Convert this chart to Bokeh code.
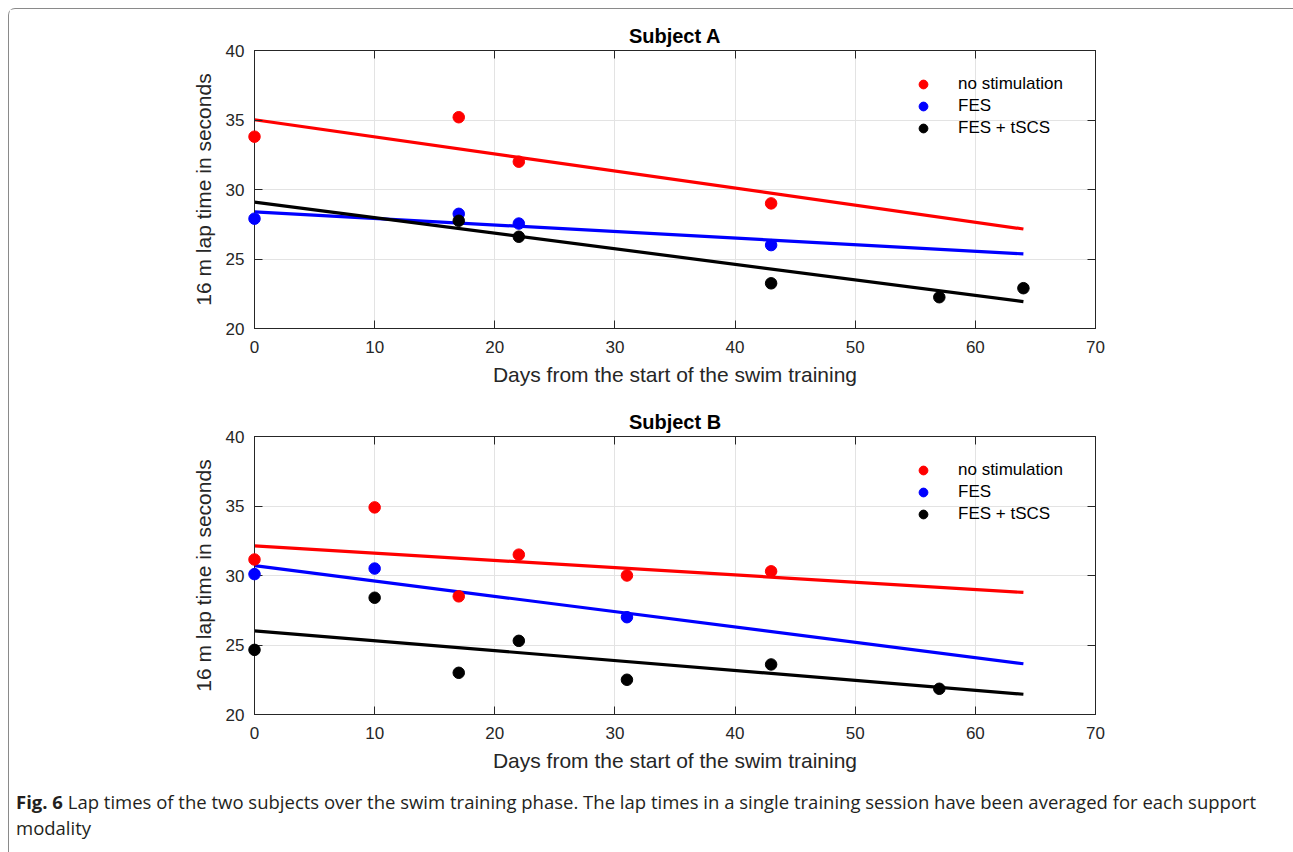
import numpy as np
from bokeh.plotting import figure
from bokeh.models import Range1d, LinearAxis, FixedTicker, Div, Legend, LegendItem
from bokeh.layouts import column
from bokeh.embed import file_html
from bokeh.resources import INLINE

# ---------------- data ----------------
X_TICKS = [0, 10, 20, 30, 40, 50, 60, 70]
Y_TICKS = [20, 25, 30, 35, 40]
FIT_X = [0, 64]
SERIES = ["no stimulation", "FES", "FES + tSCS"]
COLORS = ["#ff0000", "#0000ff", "#000000"]

# Subject A
A_nostim_x = [0, 17, 22, 43]
A_nostim_y = [33.8, 35.2, 32.0, 29.0]
A_fes_x = [0, 17, 22, 43]
A_fes_y = [27.9, 28.25, 27.55, 26.0]
A_tscs_x = [17, 22, 43, 57, 64]
A_tscs_y = [27.75, 26.6, 23.25, 22.25, 22.9]

# Subject B
B_nostim_x = [0, 10, 17, 22, 31, 43]
B_nostim_y = [31.15, 34.9, 28.5, 31.5, 30.0, 30.3]
B_fes_x = [0, 10, 31]
B_fes_y = [30.1, 30.5, 27.0]
B_tscs_x = [0, 10, 17, 22, 31, 43, 57]
B_tscs_y = [24.65, 28.4, 23.0, 25.3, 22.5, 23.6, 21.85]

CAPTION_BOLD = "Fig. 6"
CAPTION_LINE1 = ("Lap times of the two subjects over the swim training phase. "
                 "The lap times in a single training session have been averaged for each support")
CAPTION_LINE2 = "modality"

FONT = "Liberation Sans"
AX_COLOR = "#262626"


def style_axis(ax, labels=True):
    ax.major_tick_in = 8
    ax.major_tick_out = 0
    ax.minor_tick_in = 0
    ax.minor_tick_out = 0
    ax.axis_line_color = AX_COLOR
    ax.major_tick_line_color = AX_COLOR
    ax.axis_line_width = 1
    if labels:
        ax.major_label_text_font = FONT
        ax.major_label_text_font_size = "17px"
        ax.major_label_text_color = AX_COLOR
        ax.axis_label_text_font = FONT
        ax.axis_label_text_font_size = "21px"
        ax.axis_label_text_font_style = "normal"
        ax.axis_label_text_color = AX_COLOR
    else:
        ax.major_label_text_font_size = "0px"
        ax.major_label_standoff = 0
        ax.major_label_text_alpha = 0


def make_panel(title, data, height, top, bottom):
    p = figure(width=1277, height=height, x_range=Range1d(0, 70), y_range=Range1d(20, 40),
               output_backend="svg", toolbar_location=None, title=title,
               min_border_left=245, min_border_right=191,
               min_border_top=top, min_border_bottom=bottom)
    p.title.align = "center"
    p.title.text_font = FONT
    p.title.text_font_size = "20px"
    p.title.text_font_style = "bold"
    p.title.text_color = "#000000"
    p.title.standoff = 7
    p.outline_line_color = AX_COLOR
    p.background_fill_color = "white"
    p.border_fill_color = "white"

    p.xaxis.ticker = FixedTicker(ticks=X_TICKS)
    p.yaxis.ticker = FixedTicker(ticks=Y_TICKS)
    p.xaxis.axis_label = "Days from the start of the swim training"
    p.yaxis.axis_label = "16 m lap time in seconds"
    for ax in p.xaxis + p.yaxis:
        style_axis(ax)
    p.xaxis.major_label_standoff = 12
    p.xaxis.axis_label_standoff = 7
    p.yaxis.major_label_standoff = 10
    p.yaxis.axis_label_standoff = 8

    top_ax = LinearAxis(ticker=FixedTicker(ticks=X_TICKS))
    style_axis(top_ax, labels=False)
    p.add_layout(top_ax, "above")
    right_ax = LinearAxis(ticker=FixedTicker(ticks=Y_TICKS))
    style_axis(right_ax, labels=False)
    p.add_layout(right_ax, "right")

    p.xgrid.ticker = FixedTicker(ticks=X_TICKS)
    p.ygrid.ticker = FixedTicker(ticks=Y_TICKS)
    p.grid.grid_line_color = "#e3e3e3"
    p.grid.grid_line_width = 1

    items = []
    for (xs, ys), name, col in zip(data, SERIES, COLORS):
        k, b = np.polyfit(np.array(xs, float), np.array(ys, float), 1)
        fx = np.array(FIT_X, float)
        p.line(fx, k * fx + b, line_color=col, line_width=3.2)
    for (xs, ys), name, col in zip(data, SERIES, COLORS):
        # drawn at annotation level so markers at day 0 are not cut by the frame
        r = p.scatter(xs, ys, size=11.5, fill_color=col, line_color=col, marker="circle",
                      level="annotation")
        items.append(LegendItem(label=name, renderers=[r]))

    leg = Legend(items=items, location=(658, 189), padding=0, margin=0, spacing=0,
                 glyph_width=22, glyph_height=22, label_height=22, label_standoff=24,
                 label_text_font=FONT, label_text_font_size="17px",
                 label_text_color="#000000", label_text_baseline="middle",
                 border_line_alpha=0, background_fill_alpha=0)
    p.add_layout(leg)
    return p


pA = make_panel("Subject A",
                [(A_nostim_x, A_nostim_y), (A_fes_x, A_fes_y), (A_tscs_x, A_tscs_y)],
                height=386, top=41, bottom=67)
pB = make_panel("Subject B",
                [(B_nostim_x, B_nostim_y), (B_fes_x, B_fes_y), (B_tscs_x, B_tscs_y)],
                height=380, top=41, bottom=61)

cap = Div(text="<b>%s</b> %s<br>%s" % (CAPTION_BOLD, CAPTION_LINE1, CAPTION_LINE2),
          width=1277, height=68,
          styles={"font-family": "'Open Sans'", "font-size": "18.5px", "line-height": "26px",
                  "color": "#231f20", "padding-left": "2px", "padding-top": "9px",
                  "box-sizing": "border-box", "white-space": "nowrap"})

layout = column(pA, pB, cap, spacing=0,
                styles={"border-top": "1.5px solid #8a8a8a", "border-left": "1.5px solid #8a8a8a",
                        "border-top-left-radius": "7px", "background": "white",
                        "margin-left": "8px", "margin-top": "8px"})

open("out.html", "w").write(file_html(layout, INLINE))
